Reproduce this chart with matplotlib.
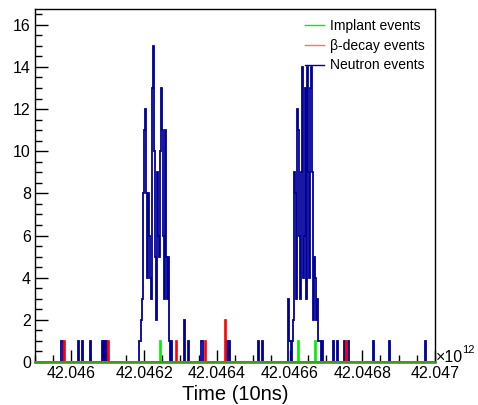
import numpy as np
import matplotlib
matplotlib.use("Agg")
import matplotlib.pyplot as plt
from matplotlib.lines import Line2D
from matplotlib.ticker import MultipleLocator, FuncFormatter

plt.rcParams['font.family'] = ['Liberation Sans', 'DejaVu Sans']

# ---- data (time in units of 1e12 x 10ns) ----
t_lo, t_hi, n_bins = 42.0459, 42.0470, 400

spill1_start = 42.046186
spill1_counts = [1, 1, 2, 3, 8, 11, 12, 8, 4, 8, 6, 4, 3, 13, 15, 10, 5, 2, 9, 6,
                 5, 10, 13, 11, 6, 3, 11, 5, 3, 5, 1]
spill2_start = 42.04659575
spill2_counts = [3, 1, 1, 0, 1, 2, 9, 8, 3, 12, 11, 6, 3, 9, 14, 4, 6, 13, 3, 14,
                 9, 4, 13, 14, 9, 2, 5, 4, 2, 3, 1, 1, 1, 0, 1]

neutron_times = [42.0459729, 42.0459756, 42.0460196, 42.0460306, 42.0460526,
                 42.0460856, 42.0460911, 42.0460966, 42.0462754, 42.0463111,
                 42.0463221, 42.0463579, 42.0463606, 42.0464294, 42.0464349,
                 42.0465146, 42.0465256, 42.0467209, 42.0467319, 42.0467511,
                 42.0467621, 42.0468309, 42.0468749, 42.0469739]
neutron_counts = [1, 1, 1, 1, 1, 1, 1, 1, 1, 2, 1, 1, 1, 1, 1, 1, 1, 1, 1, 1, 1, 1, 1, 1]

beta_times = [42.0459811, 42.0461021, 42.0462891, 42.0463689, 42.0464239, 42.0467566]
beta_counts = [1, 1, 1, 1, 2, 1]

implant_times = [42.0462451, 42.0466246, 42.0466714]
implant_counts = [1, 1, 1]

x_ticks = [42.046, 42.0462, 42.0464, 42.0466, 42.0468, 42.047]
y_max = 16.75

# ---- build histograms ----
edges = np.linspace(t_lo, t_hi, n_bins + 1)
width = edges[1] - edges[0]


def hist(times, counts):
    h, _ = np.histogram(times, bins=edges, weights=counts)
    return h


s1_t = spill1_start + (np.arange(len(spill1_counts)) + 0.5) * width
s2_t = spill2_start + (np.arange(len(spill2_counts)) + 0.5) * width
h_neutron = (hist(neutron_times, neutron_counts) + hist(s1_t, spill1_counts)
             + hist(s2_t, spill2_counts))
h_beta = hist(beta_times, beta_counts)
h_implant = hist(implant_times, implant_counts)

# ---- figure ----
W, H = 478, 405
fig = plt.figure(figsize=(W / 100, H / 100), dpi=100)
L, R, B, T = 35, 435, 362, 9
ax = fig.add_axes([L / W, 1 - B / H, (R - L) / W, (B - T) / H])

c_neu, c_beta, c_imp = '#000099', '#ff0000', '#00ee00'
ax.stairs(h_neutron, edges, color=c_neu, lw=1.3, zorder=3)
ax.stairs(h_beta, edges, color=c_beta, lw=1.2, zorder=4)
ax.stairs(h_implant, edges, color=c_imp, lw=1.2, zorder=5)
ax.plot([t_lo, t_hi], [0, 0], color='#3f9a1a', lw=1.8, zorder=6, clip_on=False)

ax.set_xlim(t_lo, t_hi)
ax.set_ylim(0, y_max)

ax.set_xticks(x_ticks)
ax.xaxis.set_major_formatter(FuncFormatter(lambda v, p: '%g' % round(v, 5)))
ax.xaxis.set_minor_locator(MultipleLocator(0.00005))
ax.yaxis.set_major_locator(MultipleLocator(2))
ax.yaxis.set_minor_locator(MultipleLocator(0.5))
ax.tick_params(which='both', direction='in', top=False, right=False, width=1,
               labelsize=11.5, colors='black')
ax.tick_params(which='major', length=9)
ax.tick_params(which='minor', length=5)
ax.tick_params(axis='x', pad=3)
ax.tick_params(axis='y', pad=3)
for s in ax.spines.values():
    s.set_linewidth(1.0)
    s.set_color('black')

ax.set_xlabel('Time (10ns)', fontsize=14.5)
ax.xaxis.set_label_coords(0.5, (B - 394) / (B - T))
ax.xaxis.label.set_va('center')

fig.text(436 / W, 1 - 358 / H, '\u00d710', fontsize=11.5, va='center', ha='left')
fig.text(462 / W, 1 - 350 / H, '12', fontsize=8, va='center', ha='left')

handles = [Line2D([], [], color=c_imp, lw=1.0),
           Line2D([], [], color='#ff7070', lw=1.0),
           Line2D([], [], color=c_neu, lw=1.0)]
labels = ['Implant events', '\u03b2-decay events', 'Neutron events']
leg = ax.legend(handles, labels, loc='upper right', bbox_to_anchor=(0.998, 1.0),
                borderaxespad=0.0, frameon=False, fontsize=10,
                handlelength=1.35, handletextpad=0.4, labelspacing=0.42,
                borderpad=0.7)
leg.set_zorder(10)

fig.savefig('out.png', dpi=100)
